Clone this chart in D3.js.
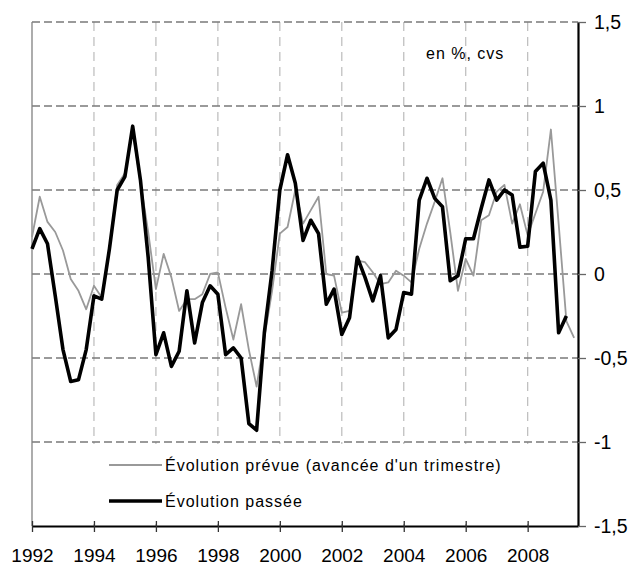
<!DOCTYPE html>
<html>
<head>
<meta charset="utf-8">
<script src="https://cdn.jsdelivr.net/npm/d3@7"></script>
<style>
  body { margin: 0; background: #fff; }
  svg text { font-family: "Liberation Sans", Arial, sans-serif; fill: #000; }
</style>
</head>
<body>
<svg id="chart" width="635" height="565"></svg>
<script>
// quarterly series, first value = 1992 Q1
const startYear = 1992;
const passee = [
  0.15, 0.27, 0.18, -0.13, -0.45, -0.64, -0.63, -0.45,
  -0.13, -0.15, 0.15, 0.5, 0.58, 0.88, 0.56, 0.1,
  -0.48, -0.35, -0.55, -0.46, -0.1, -0.41, -0.17, -0.07,
  -0.12, -0.48, -0.44, -0.5, -0.89, -0.93, -0.35, 0.02,
  0.5, 0.71, 0.54, 0.2, 0.32, 0.24, -0.18, -0.09,
  -0.36, -0.26, 0.1, -0.02, -0.16, -0.01, -0.38, -0.33,
  -0.11, -0.12, 0.44, 0.57, 0.45, 0.4, -0.04, -0.01,
  0.21, 0.21, 0.39, 0.56, 0.44, 0.5, 0.47, 0.16,
  0.165, 0.61, 0.66, 0.44, -0.35, -0.25
];
const prevue = [
  0.22, 0.46, 0.31, 0.25, 0.14, -0.03, -0.1, -0.21,
  -0.07, -0.14, 0.15, 0.53, 0.6, 0.85, 0.55, 0.25,
  -0.09, 0.12, -0.02, -0.22, -0.15, -0.15, -0.12, 0.0,
  0.01, -0.2, -0.39, -0.18, -0.45, -0.67, -0.38, -0.1,
  0.24, 0.28, 0.5, 0.3, 0.38, 0.46, 0.0, -0.01,
  -0.23, -0.22, 0.08, 0.07, 0.01, -0.06, -0.05, 0.02,
  -0.01, -0.05, 0.15, 0.3, 0.43, 0.57, 0.25, -0.1,
  0.09, -0.01, 0.32, 0.35, 0.49, 0.53, 0.3, 0.415,
  0.23, 0.36, 0.49, 0.86, 0.3, -0.28, -0.38
];
const yTicks = [1.5, 1, 0.5, 0, -0.5, -1, -1.5];
const xTicks = [1992, 1994, 1996, 1998, 2000, 2002, 2004, 2006, 2008];
const legendLabels = ["Évolution prévue (avancée d'un trimestre)", "Évolution passée"];
const unitLabel = "en %, cvs";

const MARGIN = { left: 32, right: 57, top: 22, bottom: 39 };
const WIDTH = 635, HEIGHT = 565;

const svg = d3.select('#chart');

const x = d3.scaleLinear()
  .domain([startYear, 2009.625])
  .range([MARGIN.left, WIDTH - MARGIN.right]);

const y = d3.scaleLinear()
  .domain([-1.5, 1.5])
  .range([HEIGHT - MARGIN.bottom, MARGIN.top]);

const frenchNum = d => String(d).replace('.', ',');

// vertical grid
svg.append('g')
  .selectAll('line')
  .data(xTicks.slice(1))
  .join('line')
  .attr('x1', d => x(d)).attr('x2', d => x(d))
  .attr('y1', y(1.5)).attr('y2', y(-1.5))
  .attr('stroke', '#c0c0c0')
  .attr('stroke-width', 1.3)
  .attr('stroke-dasharray', '9,6');

// horizontal grid
svg.append('g')
  .selectAll('line')
  .data(yTicks.filter(d => d > -1.5))
  .join('line')
  .attr('x1', x.range()[0]).attr('x2', x.range()[1])
  .attr('y1', d => y(d)).attr('y2', d => y(d))
  .attr('stroke', '#7a7a7a')
  .attr('stroke-width', 1.3)
  .attr('stroke-dasharray', '8,4');

// legend background
svg.append('rect')
  .attr('x', x.range()[0] + 1)
  .attr('y', y(-1) + 2)
  .attr('width', x.range()[1] - x.range()[0] - 2)
  .attr('height', y(-1.5) - y(-1) - 4)
  .attr('fill', '#fff');

// left axis line (grey)
svg.append('line')
  .attr('x1', x.range()[0]).attr('x2', x.range()[0])
  .attr('y1', y(1.5)).attr('y2', y(-1.5))
  .attr('stroke', '#808080')
  .attr('stroke-width', 1.3);

// lines
const line = d3.line()
  .x((d, i) => x(startYear + i / 4))
  .y(d => y(d));

svg.append('path')
  .datum(prevue)
  .attr('d', line)
  .attr('fill', 'none')
  .attr('stroke', '#999')
  .attr('stroke-width', 1.8)
  .attr('stroke-linejoin', 'round');

svg.append('path')
  .datum(passee)
  .attr('d', line)
  .attr('fill', 'none')
  .attr('stroke', '#000')
  .attr('stroke-width', 3.6)
  .attr('stroke-linejoin', 'round');

// bottom axis
const xAxis = d3.axisBottom(x)
  .tickValues(xTicks)
  .tickFormat(d3.format('d'))
  .tickSizeInner(6)
  .tickSizeOuter(0)
  .tickPadding(17);

const gx = svg.append('g')
  .attr('transform', `translate(0,${y(-1.5)})`)
  .call(xAxis);
gx.select('.domain').attr('stroke', '#000').attr('stroke-width', 2.2);
gx.selectAll('.tick line').attr('y1', -5).attr('stroke', '#333').attr('stroke-width', 1.3);
gx.selectAll('.tick text').attr('font-size', 19).attr('fill', '#000');

// right axis
const yAxis = d3.axisRight(y)
  .tickValues(yTicks)
  .tickFormat(frenchNum)
  .tickSizeInner(8)
  .tickSizeOuter(0)
  .tickPadding(8);

const gy = svg.append('g')
  .attr('transform', `translate(${x.range()[1]},0)`)
  .call(yAxis);
gy.select('.domain').attr('stroke', '#000').attr('stroke-width', 2.2);
gy.selectAll('.tick line').attr('stroke', '#666').attr('stroke-width', 1.3);
gy.selectAll('.tick text').attr('font-size', 19.5).attr('fill', '#000');

// legend
const legend = svg.append('g');
const legendY = [465, 501];
legend.selectAll('line')
  .data(legendLabels)
  .join('line')
  .attr('x1', 109).attr('x2', 162)
  .attr('y1', (d, i) => legendY[i]).attr('y2', (d, i) => legendY[i])
  .attr('stroke', (d, i) => i === 0 ? '#999' : '#000')
  .attr('stroke-width', (d, i) => i === 0 ? 1.8 : 3.6);
legend.selectAll('text')
  .data(legendLabels)
  .join('text')
  .attr('x', 165)
  .attr('y', (d, i) => legendY[i])
  .attr('dy', '0.35em')
  .attr('font-size', 16)
  .attr('letter-spacing', 1)
  .text(d => d);

svg.append('text')
  .attr('x', 426)
  .attr('y', 53)
  .attr('dy', '0.35em')
  .attr('font-size', 16)
  .attr('letter-spacing', 1)
  .text(unitLabel);
</script>
</body>
</html>
